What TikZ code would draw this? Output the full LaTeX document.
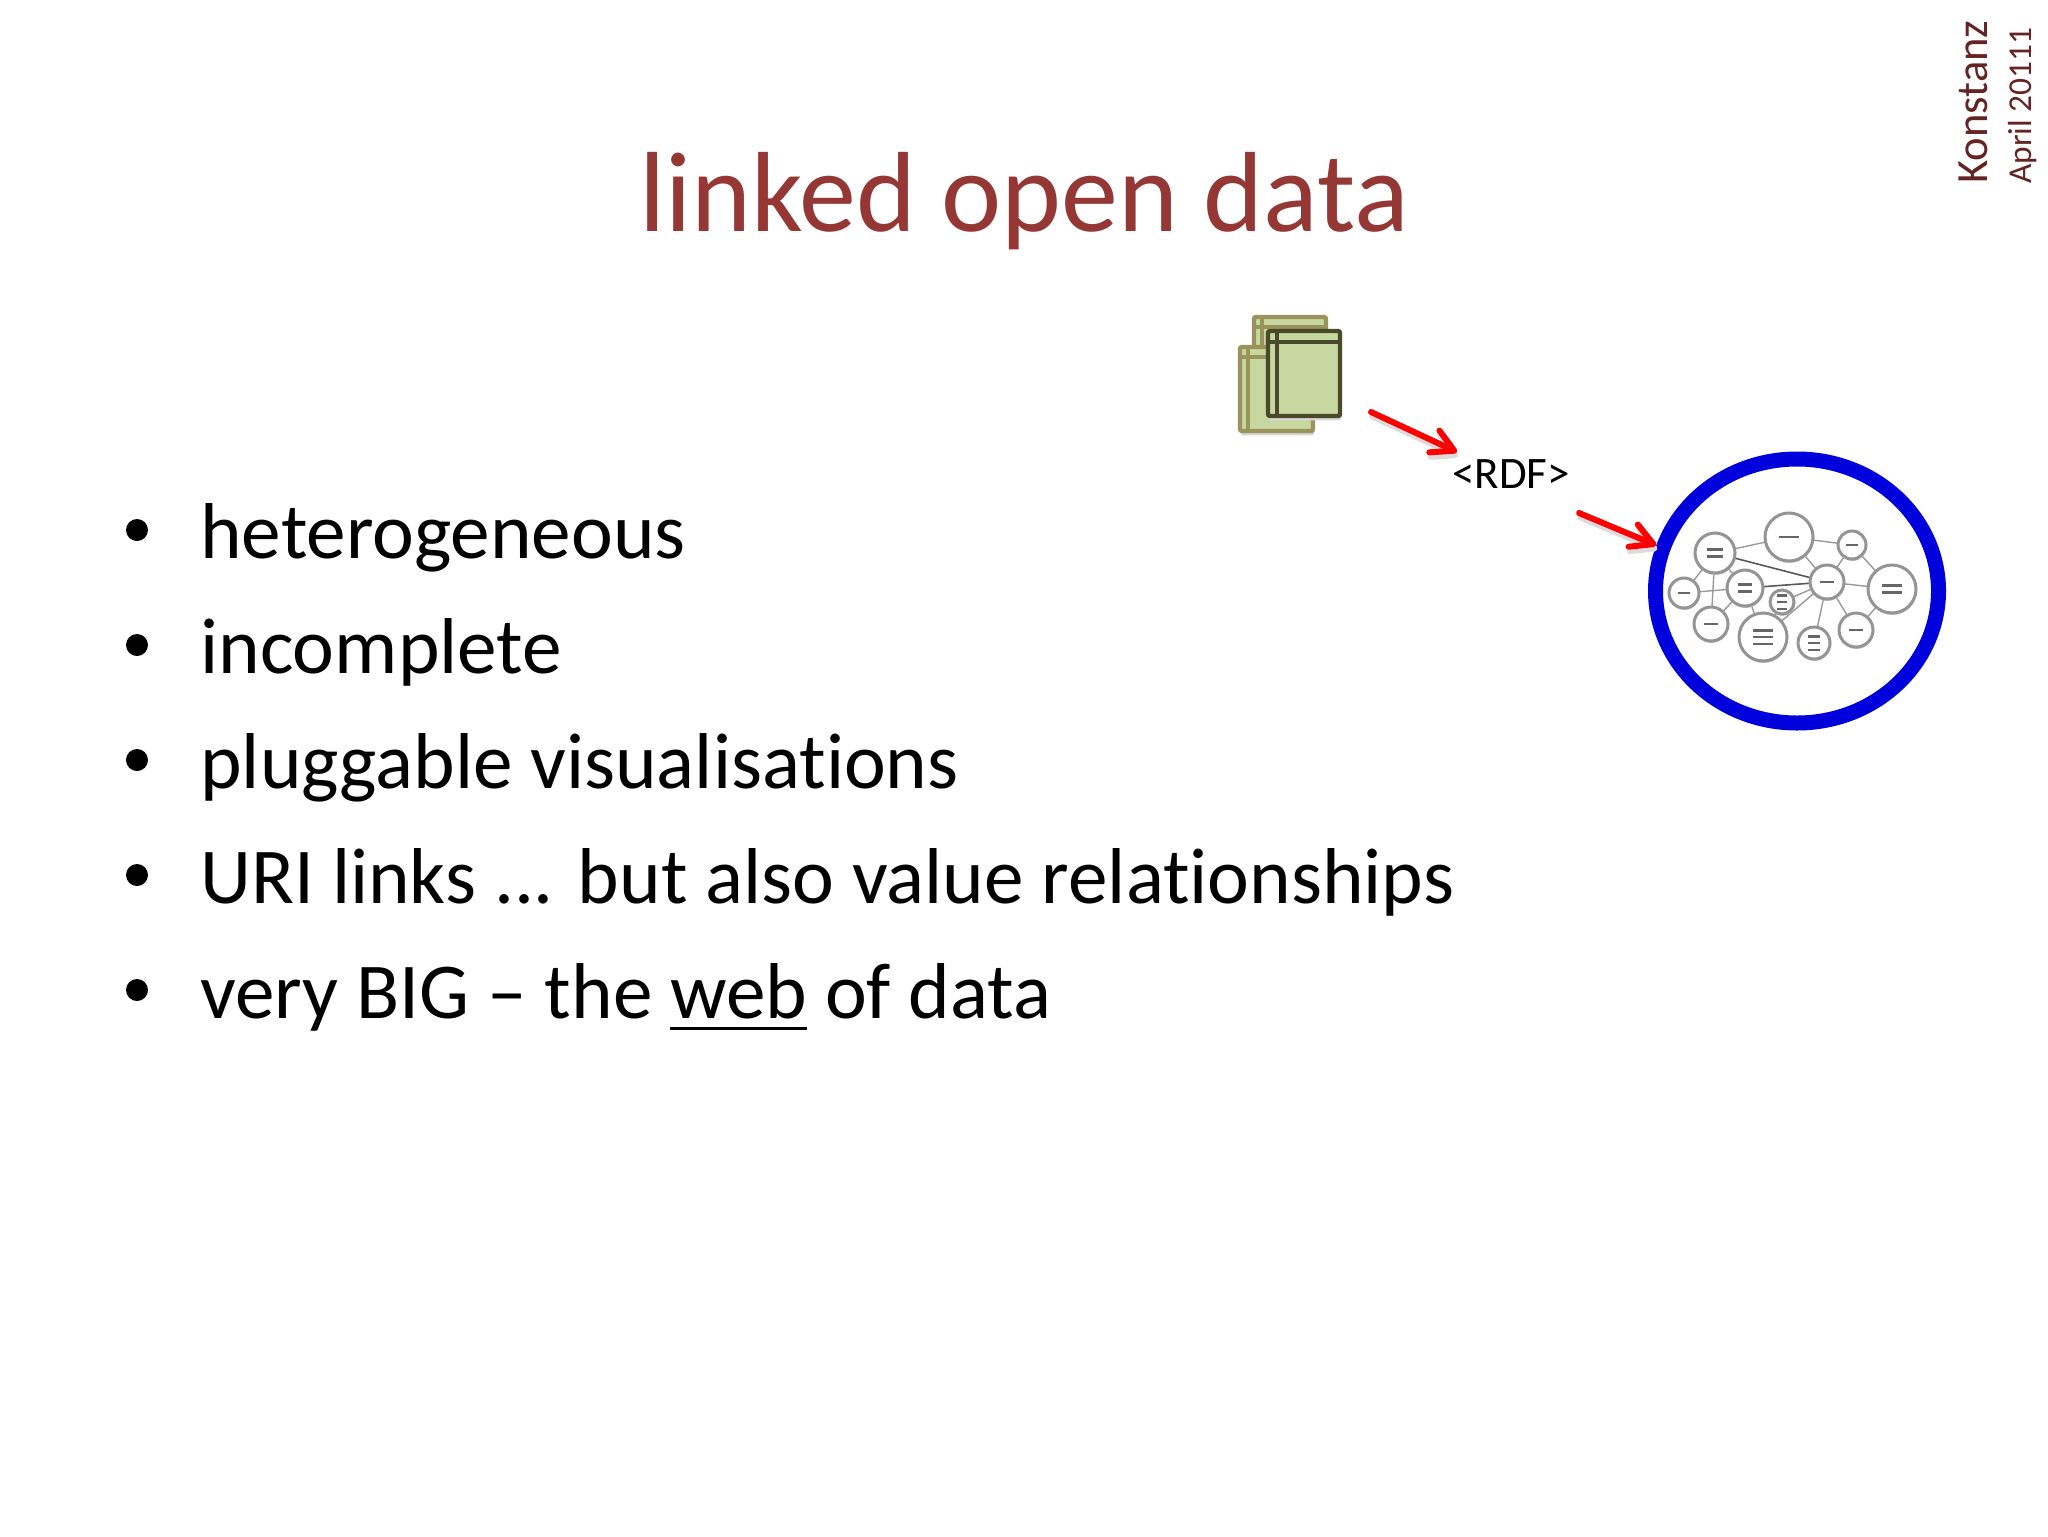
\documentclass[tikz,border=0pt]{standalone}
\usepackage{fontspec}
\setmainfont{Carlito}[Ligatures=NoCommon]
\usetikzlibrary{arrows.meta, shadows, shapes.geometric}

\definecolor{titlered}{HTML}{953735}
\definecolor{sidered}{HTML}{632423}
\definecolor{docfill}{HTML}{C6D8A0}
\definecolor{docback}{HTML}{9A945C}
\definecolor{docfront}{HTML}{4A4A2A}
\definecolor{ringblue}{HTML}{0000DC}

\newcommand{\webline}[1]{\setbox0\hbox{#1}\rlap{\rule[-6pt]{\wd0}{1.7pt}}\box0\relax}

\tikzset{
  slidetext/.style={anchor=base west, inner sep=0pt, font=\fontsize{39.6}{44}\selectfont},
  bulletdot/.style={circle, fill=black, inner sep=0pt, minimum size=11pt},
  sidetext/.style={anchor=base west, inner sep=0pt, rotate=90, text=sidered},
  softshadow/.style={general shadow={fill=black!16, shadow xshift=0.5pt, shadow yshift=-2.2pt}},
  redarrow/.style={draw=red, line width=3pt, line cap=round, -{Straight Barb[length=11pt, width=12pt, line width=3pt, round]}},
  arrowshade/.style={draw=black!14, line width=3pt, line cap=round, -{Straight Barb[length=11pt, width=12pt, line width=3pt, round]},
    transform canvas={xshift=0.5pt, yshift=-2.2pt}},
  graphnode/.style={circle, draw=black!42, line width=1.5pt, fill=white, inner sep=0pt,
    general shadow={fill=black!22, shadow xshift=0.3pt, shadow yshift=-1pt}},
  graphedge/.style={draw=black!40, line width=0.7pt},
  graphbold/.style={draw=black!65, line width=0.8pt},
  graphtext/.style={draw=black!60, line width=1.3pt},
}

\begin{document}
\begin{tikzpicture}[x=0.5pt, y=-0.5pt]
  \useasboundingbox (0, 0) rectangle (2048, 1536);

  \node[inner sep=0pt, anchor=base, text=titlered, font=\fontsize{57}{62}\selectfont] (title) at (1024, 231) {linked open data};

  \node[sidetext, font=\fontsize{22.3}{26}\selectfont] (place) at (1987, 184) {Konstanz};
  \node[sidetext, font=\fontsize{16.7}{20}\selectfont] (date) at (2031, 184) {April 20111};

  % bullet list
  \node[bulletdot] (dota) at (137, 530) {};
  \node[slidetext] (hetero) at (200, 558) {heterogeneous};
  \node[bulletdot] (dotb) at (137, 645) {};
  \node[slidetext] (incomplete) at (200, 673) {incomplete};
  \node[bulletdot] (dotc) at (137, 760) {};
  \node[slidetext] (pluggable) at (200, 788) {pluggable visualisations};
  \node[bulletdot] (dotd) at (137, 875) {};
  \node[slidetext] (links) at (200, 903) {URI links ... but also value relationships};
  \node[bulletdot] (dote) at (137, 990) {};
  \node[slidetext] (big) at (200, 1018) {very BIG – the \webline{web} of data};

  % stack of documents
  \foreach \px/\py/\pw/\ph/\lx/\ly/\col in {
    1254/317/72/84/1262/327/docback,
    1240/347/73/84/1248/357/docback,
    1268/331/72/85/1277/342/docfront} {
    \draw[draw=\col, line width=2.2pt, rounded corners=1pt, fill=docfill, softshadow]
      (\px, \py) rectangle ++(\pw, \ph);
    \draw[draw=\col, line width=2.2pt] (\lx, \py) -- (\lx, \py+\ph);
    \draw[draw=\col, line width=2.2pt] (\px, \ly) -- (\px+\pw, \ly);
  }
  \coordinate (docs) at (1371, 412);
  \coordinate (rdfin) at (1457, 452);

  \node[inner sep=0pt, anchor=base, font=\fontsize{22.5}{26}\selectfont] (rdf) at (1511, 488) {<RDF>};
  \coordinate (rdfout) at (1579, 513);

  % ring of linked data
  \node[ellipse, draw=ringblue, line width=7.5pt, fill=white, minimum width=141.5pt, minimum height=132pt,
    inner sep=0pt, softshadow] (ring) at (1797, 591) {};

  \draw[arrowshade] (docs) -- (rdfin);
  \draw[redarrow] (docs) -- (rdfin);
  \draw[arrowshade] (rdfout) -- (ring.162);
  \draw[redarrow] (rdfout) -- (ring.162);

  \foreach \nm/\gx/\gy in {
    top/1789/537, news/1852/545, music/1715/553, hub/1827/582,
    web/1892/589, far/1684/593, mid/1745/588, tiny/1782/602,
    low/1711/624, big/1763/637, lowmid/1814/643, lowright/1856/630} {
    \coordinate (\nm) at (\gx, \gy);
  }
  \foreach \a/\b in {top/news, top/music, top/hub, news/hub, news/web, hub/web, hub/lowright, hub/lowmid,
    hub/tiny, hub/big, music/mid, music/far, music/low, far/mid, low/mid, mid/big, web/lowright, tiny/big} {
    \draw[graphedge] (\a) -- (\b);
  }
  \draw[graphbold] (music) -- (hub);
  \draw[graphbold] (mid) -- (hub);

  \foreach \nm/\gr/\tl in {
    top/24/1, news/14/1, music/20/2, hub/17/1, web/24/2, far/15/1,
    mid/18/2, tiny/12/3, low/17/1, big/24/3, lowmid/16/3, lowright/17/1} {
    \node[graphnode, minimum size=\gr*1pt] (n\nm) at (\nm) {};
    \foreach \k in {1, ..., \tl} {
      \draw[graphtext] ([xshift=-\gr*0.2pt, yshift=(\tl+1-2*\k)*1.7pt]\nm) -- ([xshift=\gr*0.2pt, yshift=(\tl+1-2*\k)*1.7pt]\nm);
    }
  }
\end{tikzpicture}
\end{document}
